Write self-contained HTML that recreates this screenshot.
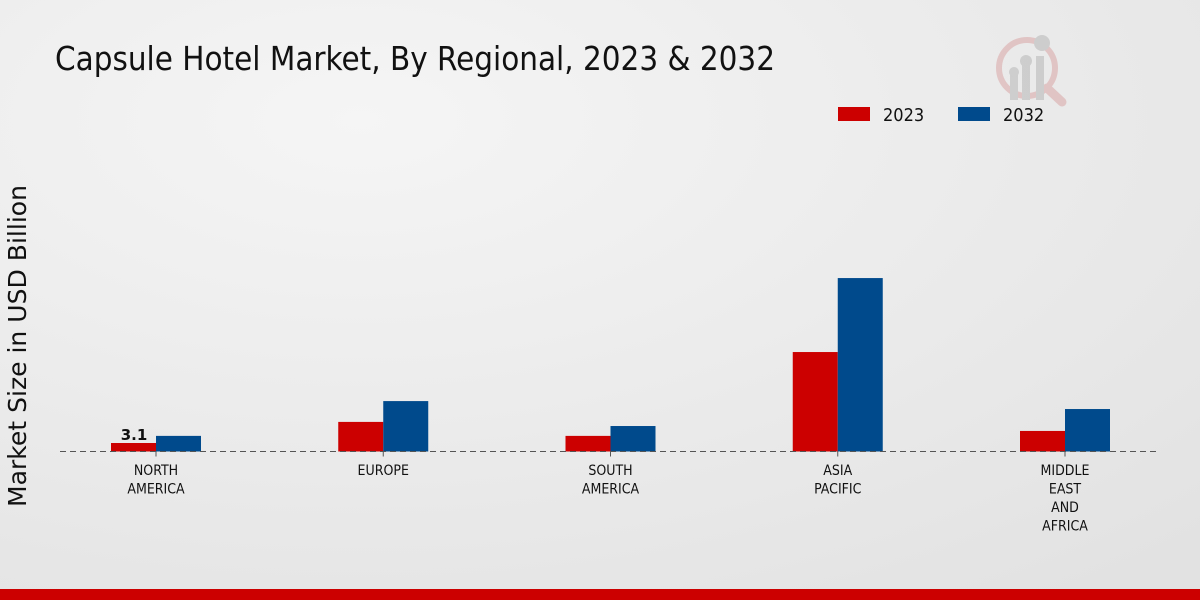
<!DOCTYPE html>
<html><head><meta charset="utf-8"><style>
body{margin:0;width:1200px;height:600px;overflow:hidden;background:radial-gradient(ellipse at 30% 30%,#f4f4f4,#e4e4e4);font-family:"Liberation Sans","DejaVu Sans",sans-serif;}
</style></head><body>
<svg width="1200" height="600" xmlns="http://www.w3.org/2000/svg" style="position:absolute;left:0;top:0">
<defs><radialGradient id="bg" cx="0.3" cy="0.2" r="1"><stop offset="0" stop-color="#f5f5f5"/><stop offset="1" stop-color="#e2e2e2"/></radialGradient></defs>
<rect width="1200" height="600" fill="url(#bg)"/>
<text x="55" y="70" font-family="DejaVu Sans Condensed, DejaVu Sans, sans-serif" font-size="32.5" textLength="720" lengthAdjust="spacingAndGlyphs" fill="#111">Capsule Hotel Market, By Regional, 2023 &amp; 2032</text>
<g opacity="0.35">
<circle cx="1027" cy="68" r="28" fill="none" stroke="#d08080" stroke-width="6"/>
<line x1="1047" y1="88" x2="1062" y2="102" stroke="#d08080" stroke-width="9" stroke-linecap="round"/>
<rect x="1010" y="75" width="8" height="25" fill="#999"/><rect x="1022" y="64" width="8" height="36" fill="#999"/><rect x="1036" y="56" width="8" height="44" fill="#999"/>
<circle cx="1014" cy="72" r="5" fill="#999"/><circle cx="1026" cy="61" r="6" fill="#999"/><circle cx="1042" cy="43" r="8" fill="#999"/>
</g>
<g>
<rect x="838" y="107" width="32" height="14" fill="#cc0000"/>
<text x="883" y="121" font-size="18" fill="#111" font-family="DejaVu Sans Condensed, DejaVu Sans, sans-serif">2023</text>
<rect x="958" y="107" width="32" height="14" fill="#004a8c"/>
<text x="1003" y="121" font-size="18" fill="#111" font-family="DejaVu Sans Condensed, DejaVu Sans, sans-serif">2032</text>
</g>
<text transform="translate(26,346) rotate(-90)" text-anchor="middle" font-size="24.5" textLength="322" lengthAdjust="spacingAndGlyphs" fill="#111" font-family="DejaVu Sans, sans-serif">Market Size in USD Billion</text>
<g id="bars"></g>
<line x1="60" y1="451.5" x2="1160" y2="451.5" stroke="#555" stroke-dasharray="6,4"/>
<g id="labels"></g>
</svg>
<script>
const categories=[["NORTH","AMERICA"],["EUROPE"],["SOUTH","AMERICA"],["ASIA","PACIFIC"],["MIDDLE","EAST","AND","AFRICA"]];
const values2023=[3.1,10.8,5.7,36.3,7.5];
const values2032=[5.7,18.4,9.3,63.3,15.5];
const valueLabels=["3.1","","","",""];
const NS="http://www.w3.org/2000/svg";
const base=451.5,pxPer=2.74,x0=156,step=227.25,bw=45;
const yScale=v=>base-v*pxPer;
const xScale=i=>x0+i*step;
const bars=document.getElementById('bars'),labels=document.getElementById('labels');
function mk(t,a){const e=document.createElementNS(NS,t);for(const k in a)e.setAttribute(k,a[k]);return e;}
categories.forEach((c,i)=>{
  const cx=xScale(i);
  const r1=mk('rect',{x:cx-bw,y:yScale(values2023[i]),width:bw,height:base-yScale(values2023[i]),fill:'#cc0000'});
  
  
  bars.appendChild(r1);
  const r2=mk('rect',{x:cx,y:yScale(values2032[i]),width:bw,height:base-yScale(values2032[i]),fill:'#004a8c'});
  
  
  bars.appendChild(r2);
  if(valueLabels[i]){
    const t=mk('text',{x:cx-bw/2+0.5,y:yScale(values2023[i])-3,'text-anchor':'middle','font-size':'15','font-weight':'bold',fill:'#111','font-family':'DejaVu Sans, sans-serif'});
    t.textContent=valueLabels[i];
    
    
    labels.appendChild(t);
  }
  const tk=mk('line',{x1:cx,x2:cx,y1:base,y2:base+5,stroke:'#555'});
  
  
  labels.appendChild(tk);
  c.forEach((ln,j)=>{
    const t=mk('text',{x:cx,y:475+j*18.5,'text-anchor':'middle','font-size':'14',fill:'#111','font-family':'DejaVu Sans Condensed, DejaVu Sans, sans-serif'});
    t.textContent=ln;
    
    
    labels.appendChild(t);
  });
});
</script>
<div style="position:absolute;left:0;top:589px;width:1200px;height:11px;background:#cc0000"></div>
</body></html>
